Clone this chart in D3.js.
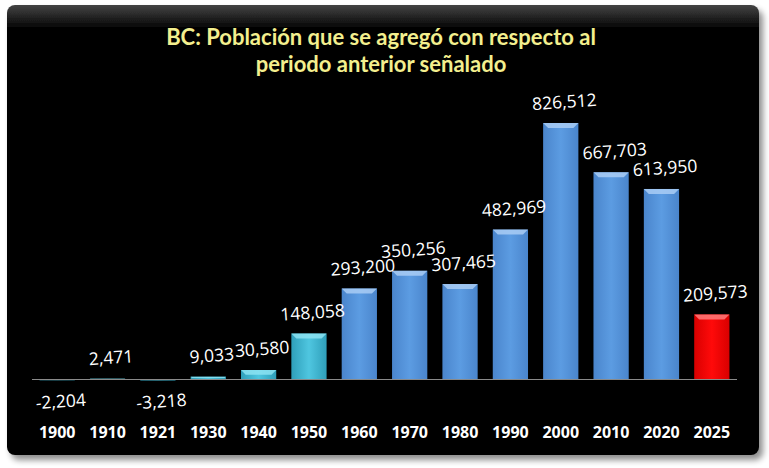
<!DOCTYPE html>
<html>
<head>
<meta charset="utf-8">
<script src="https://cdn.jsdelivr.net/npm/d3@7"></script>
<style>
  body { margin: 0; background: #fff; }
</style>
</head>
<body>
<div id="chart"></div>
<script>
'use strict';

// data
const years = ["1900", "1910", "1921", "1930", "1940", "1950", "1960",
	"1970", "1980", "1990", "2000", "2010", "2020", "2025"];
const added = [-2204, 2471, -3218, 9033, 30580, 148058, 293200,
	350256, 307465, 482969, 826512, 667703, 613950, 209573];
const groups = ["teal", "teal", "teal", "teal", "teal", "teal", "blue",
	"blue", "blue", "blue", "blue", "blue", "blue", "red"];
const titleLines = ["BC: Población que se agregó con respecto al",
	"periodo anterior señalado"];

const width = 769, height = 468;

const svg = d3.select("#chart")
	.append("svg")
		.attr("width", width)
		.attr("height", height);

const defs = svg.append("defs");

// drop shadow for the panel
const shadow = defs.append("filter").attr("id", "shadow")
	.attr("x", "-5%").attr("y", "-5%").attr("width", "115%").attr("height", "115%");
shadow.append("feGaussianBlur").attr("in", "SourceAlpha").attr("stdDeviation", 3);
shadow.append("feOffset").attr("dx", 4).attr("dy", 5).attr("result", "off");
shadow.append("feComponentTransfer").append("feFuncA").attr("type", "linear").attr("slope", 0.45);
const merge = shadow.append("feMerge");
merge.append("feMergeNode");
merge.append("feMergeNode").attr("in", "SourceGraphic");

const panelGrad = defs.append("linearGradient").attr("id", "panelGrad")
	.attr("x1", 0).attr("y1", 0).attr("x2", 0).attr("y2", 1);
panelGrad.append("stop").attr("offset", "0%").attr("stop-color", "#444");
panelGrad.append("stop").attr("offset", "5%").attr("stop-color", "#060606");
panelGrad.append("stop").attr("offset", "100%").attr("stop-color", "#000");

// bar fills
const fills = {
	teal: ["#2f9fba", "#4fc6e0", "#2f9fba", "#8ce3f2"],
	blue: ["#4a85cc", "#5c9ce2", "#4a85cc", "#a9cdf5"],
	red:  ["#d80000", "#ff0a0a", "#d80000", "#ff7a7a"]
};
Object.entries(fills).forEach(([k, c]) => {
	const g = defs.append("linearGradient").attr("id", "bar-" + k)
		.attr("x1", 0).attr("y1", 0).attr("x2", 1).attr("y2", 0);
	g.append("stop").attr("offset", "0%").attr("stop-color", c[0]);
	g.append("stop").attr("offset", "50%").attr("stop-color", c[1]);
	g.append("stop").attr("offset", "100%").attr("stop-color", c[2]);
});

svg.append("rect")
	.attr("x", 7).attr("y", 5)
	.attr("width", 752).attr("height", 450)
	.attr("rx", 8)
	.attr("fill", "url(#panelGrad)")
	.attr("filter", "url(#shadow)");

// title
svg.append("text")
	.attr("x", 381)
	.attr("y", 45)
	.attr("text-anchor", "middle")
	.attr("font-family", "Lato, 'Open Sans', sans-serif")
	.attr("font-weight", "bold")
	.attr("font-size", 22)
	.attr("fill", "#f3ef8e")
	.selectAll("tspan")
	.data(titleLines)
	.join("tspan")
		.attr("x", 381)
		.attr("dy", (d, i) => i ? 27 : 0)
		.text(d => d);

// scales
const x = d3.scaleBand()
	.domain(years)
	.range([32, 737])
	.paddingInner(0.3)
	.paddingOuter(0.15);

const y = d3.scaleLinear()
	.domain([0, 826512])
	.range([379.5, 123]);

const bars = svg.append("g");

bars.selectAll("rect")
	.data(added)
	.join("rect")
		.attr("x", (d, i) => x(years[i]))
		.attr("y", d => Math.min(y(d), y(0)))
		.attr("width", x.bandwidth())
		.attr("height", d => Math.max(0.8, Math.abs(y(d) - y(0))))
		.attr("fill", (d, i) => `url(#bar-${groups[i]})`);

// bevel highlight on the top of each positive bar
const bev = 5;
bars.selectAll("path.bevel")
	.data(added)
	.join("path")
		.attr("class", "bevel")
		.attr("d", (d, i) => {
			const x0 = x(years[i]), x1 = x0 + x.bandwidth();
			const t = y(d);
			const h = Math.min(bev, Math.max(0, y(0) - t) / 2);
			return `M${x0},${t}L${x1},${t}L${x1 - h},${t + h}L${x0 + h},${t + h}Z`;
		})
		.attr("fill", (d, i) => fills[groups[i]][3])
		.attr("opacity", d => d > 0 ? 0.85 : 0);

// zero line
svg.append("line")
	.attr("x1", x.range()[0]).attr("x2", x.range()[1])
	.attr("y1", y(0)).attr("y2", y(0))
	.attr("stroke", "#8a8a8a")
	.attr("stroke-width", 1);

// value labels (plain hyphen for negatives, like the original)
const fmt = d => d3.format(",")(d).replace("\u2212", "-");
svg.append("g")
	.selectAll("text")
	.data(added)
	.join("text")
		.attr("transform", (d, i) => {
			const cx = x(years[i]) + x.bandwidth() / 2 + 4;
			const cy = d >= 0 ? y(d) - 15 : y(0) + 28;
			return `translate(${cx},${cy}) rotate(-4)`;
		})
		.attr("text-anchor", "middle")
		.attr("font-family", "'Open Sans', sans-serif")
		.attr("font-size", 17.5)
		.attr("fill", "#fff")
		.text(d => fmt(d));

// x axis labels
const xAxis = svg.append("g")
	.attr("transform", `translate(0,${y(0)})`)
	.call(d3.axisBottom(x).tickSize(0).tickPadding(0));
xAxis.select(".domain").remove();
xAxis.selectAll("text")
	.attr("dy", 0)
	.attr("y", 58.5)
	.attr("font-family", "'Open Sans', sans-serif")
	.attr("font-weight", "bold")
	.attr("font-size", 16)
	.attr("fill", "#fff");
</script>
</body>
</html>
